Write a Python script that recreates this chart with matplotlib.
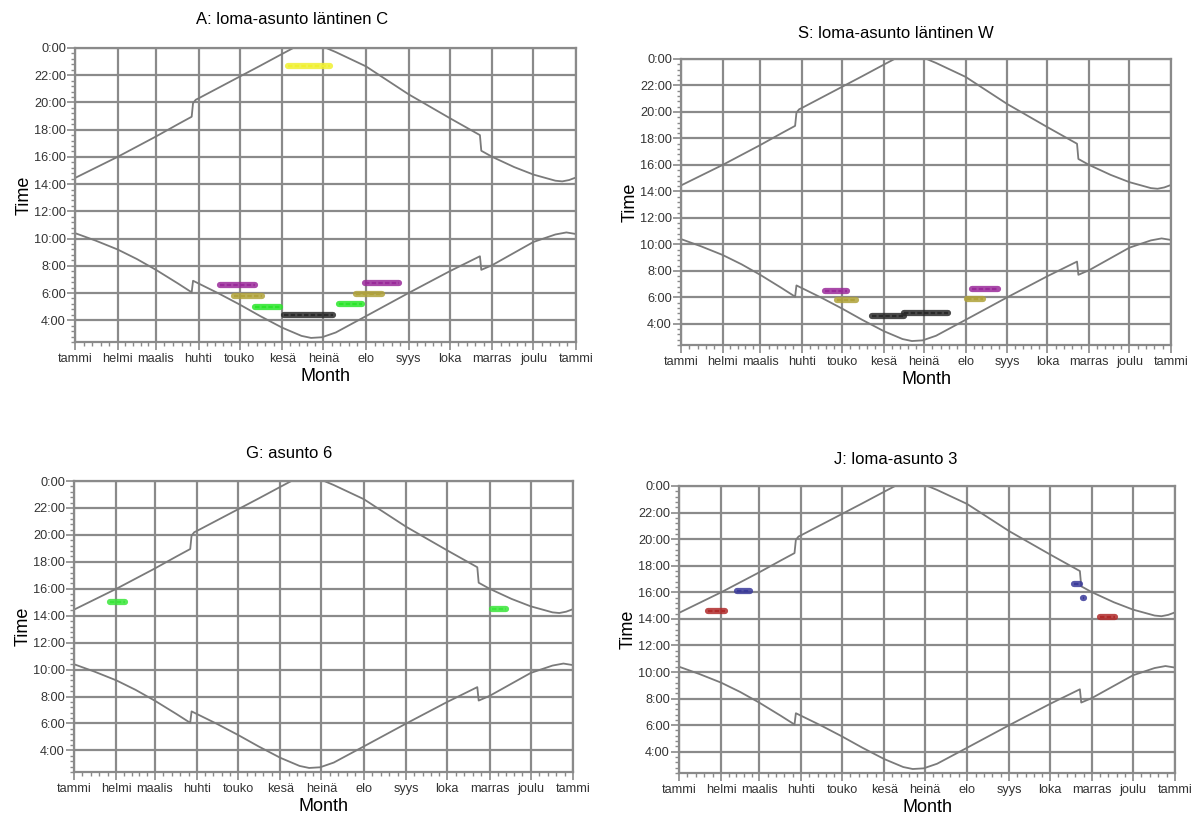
import numpy as np
import matplotlib
matplotlib.use("Agg")
import matplotlib.pyplot as plt
from matplotlib.ticker import FixedLocator

plt.rcParams["font.family"] = ["Liberation Sans", "DejaVu Sans"]

MONTH_NAMES = ["tammi", "helmi", "maalis", "huhti", "touko", "kesä", "heinä",
               "elo", "syys", "loka", "marras", "joulu", "tammi"]
MONTH_START = [0, 31, 59, 90, 120, 151, 181, 212, 243, 273, 304, 334, 365]

HOUR_TICKS = [4, 6, 8, 10, 12, 14, 16, 18, 20, 22, 24]
HOUR_LABELS = ["4:00", "6:00", "8:00", "10:00", "12:00", "14:00", "16:00",
               "18:00", "20:00", "22:00", "0:00"]

# upper curve (evening), gap where it runs past midnight
UPPER_DAY = [0, 15, 31, 45, 59, 75, 85, 86, 88, 90, 105, 120, 135, 151, 159,
             170, 183, 190, 212, 243, 273, 295, 296, 304, 320, 334, 350, 355,
             360, 364]
UPPER_HOUR = [14.45, 15.2, 16.0, 16.75, 17.5, 18.4, 18.95, 19.95, 20.2, 20.3,
              21.1, 21.9, 22.7, 23.57, 24.0, np.nan, 24.0, 23.7, 22.65, 20.6,
              18.85, 17.6, 16.45, 16.0, 15.25, 14.7, 14.25, 14.2, 14.3, 14.45]

# lower curve (morning)
LOWER_DAY = [0, 15, 31, 45, 59, 75, 85, 86, 90, 105, 120, 135, 151, 165, 172,
             180, 190, 212, 243, 273, 295, 296, 304, 334, 350, 358, 364]
LOWER_HOUR = [10.4, 9.85, 9.2, 8.5, 7.7, 6.7, 6.05, 6.9, 6.7, 5.95, 5.15,
              4.3, 3.45, 2.85, 2.7, 2.75, 3.1, 4.3, 6.0, 7.6, 8.7, 7.7, 8.05,
              9.75, 10.3, 10.45, 10.35]

# occupancy blobs per panel: start day, end day, hour, colour
A_START = [155, 106, 116, 131, 152, 192, 205, 211]
A_END = [186, 131, 136, 149, 188, 209, 224, 236]
A_HOUR = [22.65, 6.62, 5.76, 4.96, 4.42, 5.2, 5.9, 6.74]
A_COLOR = ["#f0f030", "#9a2a9a", "#b0a23a", "#2ae62a", "#2a2a2a",
           "#2ae62a", "#b0a23a", "#9a2a9a"]

S_START = [107, 116, 142, 166, 213, 217]
S_END = [124, 130, 166, 199, 225, 236]
S_HOUR = [6.5, 5.77, 4.6, 4.8, 5.9, 6.63]
S_COLOR = ["#9a2a9a", "#b0a23a", "#2a2a2a", "#2a2a2a", "#b0a23a", "#9a2a9a"]

G_START = [26, 306]
G_END = [37, 316]
G_HOUR = [15.0, 14.48]
G_COLOR = ["#3ae63a", "#3ae63a"]

J_START = [21, 43, 291, 297, 310]
J_END = [34, 52, 295, 298, 321]
J_HOUR = [14.57, 16.1, 16.6, 15.6, 14.13]
J_COLOR = ["#b02a2a", "#3a3a9a", "#3a3a9a", "#3a3a9a", "#b02a2a"]

GRID = "#8a8a8a"
CURVE = "#7a7a7a"
Y_MIN = 2.4


def month_minor_ticks():
    ticks = []
    for a, b in zip(MONTH_START[:-1], MONTH_START[1:]):
        step = (b - a) / 5.0
        ticks.extend(a + step * k for k in range(1, 5))
    return ticks


def draw_panel(ax, starts, ends, hours, colors):
    ax.set_xlim(0, 365)
    ax.set_ylim(Y_MIN, 24)

    ax.xaxis.set_major_locator(FixedLocator(MONTH_START))
    ax.xaxis.set_minor_locator(FixedLocator(month_minor_ticks()))
    ax.set_xticklabels(MONTH_NAMES)
    ax.yaxis.set_major_locator(FixedLocator(HOUR_TICKS))
    ax.yaxis.set_minor_locator(FixedLocator(np.arange(Y_MIN, 24, 0.4)))
    ax.set_yticklabels(HOUR_LABELS)

    ax.grid(True, which="major", color=GRID, linewidth=1.6)
    ax.set_axisbelow(True)
    for side in ax.spines.values():
        side.set_color(GRID)
        side.set_linewidth(1.6)

    ax.tick_params(which="major", length=5.5, width=1.2, color=GRID,
                   labelsize=9.2, labelcolor="#333333")
    ax.tick_params(which="minor", length=3.2, width=1.0, color=GRID)
    ax.tick_params(axis="y", which="major", pad=1)
    ax.tick_params(axis="x", which="major", pad=9)
    for lab in ax.get_xticklabels():
        lab.set_verticalalignment("baseline")

    ax.plot(UPPER_DAY, UPPER_HOUR, color=CURVE, linewidth=1.3)
    ax.plot(LOWER_DAY, LOWER_HOUR, color=CURVE, linewidth=1.3)

    for s, e, h, c in zip(starts, ends, hours, colors):
        ax.plot([s, e], [h, h], color=c, linewidth=4.5, alpha=0.85,
                solid_capstyle="round")
        ax.plot([s, e], [h, h], color=c, linewidth=1.6,
                linestyle=(0, (2, 1)))

    ax.set_xlabel("Month", fontsize=13, labelpad=2)
    ax.set_ylabel("Time", fontsize=13, labelpad=1)


fig = plt.figure(figsize=(11.95, 8.14), dpi=100)

W, H = 1195.0, 814.0


def add_axes(left, right, top, bottom):
    return fig.add_axes([left / W, 1 - bottom / H, (right - left) / W,
                         (bottom - top) / H])


ax_a = add_axes(75, 576, 48, 342)
ax_s = add_axes(681, 1171, 59, 345)
ax_g = add_axes(74, 573, 481, 772)
ax_j = add_axes(679, 1175, 486, 773)

draw_panel(ax_a, A_START, A_END, A_HOUR, A_COLOR)
draw_panel(ax_s, S_START, S_END, S_HOUR, S_COLOR)
draw_panel(ax_g, G_START, G_END, G_HOUR, G_COLOR)
draw_panel(ax_j, J_START, J_END, J_HOUR, J_COLOR)

titles = [("A: loma-asunto läntinen C", 292, 20),
          ("S: loma-asunto läntinen W", 896, 33),
          ("G: asunto 6", 289, 453),
          ("J: loma-asunto 3", 896, 459)]
for text, x, y in titles:
    fig.text(x / W, 1 - y / H, text, ha="center", va="center", fontsize=12)

fig.savefig("out.png", dpi=100)
